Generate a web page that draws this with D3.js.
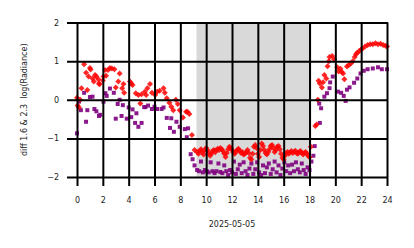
<!DOCTYPE html>
<html>
<head>
<meta charset="utf-8">
<script src="https://cdn.jsdelivr.net/npm/d3@7"></script>
<style>
  body { margin:0; background:white; }
  .tick text { font-family:"DejaVu Sans"; font-size:8px; fill:#222; }
  .lbl { font-family:"DejaVu Sans"; font-size:8px; fill:#222; white-space:pre; }
</style>
</head>
<body>
<script>
// hours and values
var redHours=[0,0.05,0.15,0.25,0.35,0.55,0.7,0.8,0.9,1.0,1.05,1.2,1.3,1.4,1.5,1.65,1.7,1.75,2.0,2.05,2.17,2.25,2.4,2.55,2.7,2.9,3.0,3.2,3.3,3.5,3.6,3.65,4.1,4.2,4.3,4.55,4.75,4.9,5.0,5.25,5.35,5.45,5.65,5.8,6.05,6.2,6.4,6.7,6.8,6.95,7.15,7.3,7.45,7.65,7.8,7.95,8.2,8.45,8.55,8.7,8.9,9.1,9.3,
  9.4,9.5,9.6,9.7,9.8,9.9,10.0,10.1,10.2,10.3,10.4,10.5,10.6,10.7,10.8,10.9,11.0,11.1,11.2,11.3,11.4,11.5,11.6,11.7,11.8,11.9,12.0,12.1,12.2,12.3,12.4,12.5,12.6,12.7,12.8,12.9,13.0,13.1,13.2,13.3,13.4,13.5,13.6,13.7,13.8,13.9,14.0,14.1,14.2,14.3,14.4,14.5,14.6,14.7,14.8,14.9,15.0,15.1,15.2,15.3,15.4,15.5,15.6,15.7,15.8,15.9,16.0,16.1,16.2,16.3,16.4,16.5,16.6,16.7,16.8,16.9,17.0,17.1,17.2,17.3,17.4,17.5,17.6,17.7,17.8,17.9,18.0,18.1,
  18.45,18.55,18.65,18.7,18.8,18.96,19.05,19.15,19.3,19.4,19.5,19.55,19.75,19.9,20.15,20.25,20.4,20.5,20.6,20.7,20.9,21.05,21.2,21.35,21.5,21.6,21.7,21.85,22.0,22.1,22.3,22.5,22.7,22.9,23.1,23.3,23.5,23.7,23.9,24.0];
var redVals=[0.05,-0.15,-0.2,0.0,0.3,0.92,0.7,0.25,0.6,0.82,0.78,0.55,0.47,0.64,0.6,0.53,0.42,0.4,0.5,0.6,0.77,0.62,0.77,0.82,0.81,0.79,0.32,0.47,0.68,0.3,0.41,0.18,0.47,0.42,0.38,0.17,0.12,-0.1,0.14,0.21,0.12,0.3,0.41,0.18,0.12,0.21,0.23,0.3,0.18,0.04,-0.08,-0.18,-0.27,0.0,-0.11,-0.27,-0.46,-0.31,-0.31,-0.37,-0.91,-1.3,-1.35,
  -1.4,-1.32,-1.28,-1.35,-1.42,-1.3,-1.25,-1.3,-1.38,-1.45,-1.4,-1.33,-1.3,-1.36,-1.3,-1.27,-1.3,-1.25,-1.28,-1.33,-1.4,-1.48,-1.38,-1.28,-1.22,-1.25,-1.3,-1.36,-1.4,-1.35,-1.3,-1.27,-1.32,-1.38,-1.35,-1.42,-1.4,-1.35,-1.3,-1.38,-1.5,-1.55,-1.4,-1.22,-1.17,-1.25,-1.4,-1.48,-1.3,-1.13,-1.2,-1.3,-1.38,-1.42,-1.35,-1.28,-1.2,-1.17,-1.25,-1.35,-1.3,-1.22,-1.2,-1.28,-1.4,-1.5,-1.55,-1.45,-1.38,-1.35,-1.4,-1.36,-1.33,-1.38,-1.35,-1.32,-1.38,-1.4,-1.35,-1.33,-1.38,-1.42,-1.38,-1.35,-1.4,-1.45,-1.49,-1.22,
  -0.68,-0.64,0.0,0.49,0.42,0.32,0.45,0.64,0.55,0.87,1.0,1.11,1.13,1.05,0.84,0.73,0.8,0.72,0.68,0.53,0.86,0.9,0.94,1.0,1.11,1.18,1.22,1.26,1.3,1.33,1.38,1.42,1.44,1.44,1.46,1.44,1.45,1.42,1.40,1.38];

var purpleHours=[0,0.15,0.3,0.55,0.7,0.8,1.0,1.2,1.35,1.5,1.7,1.8,2.05,2.2,2.3,2.55,2.85,3.0,3.15,3.3,3.45,3.55,3.85,4.0,4.2,4.3,4.5,4.6,4.75,5.0,5.2,5.3,5.5,5.8,6.0,6.2,6.55,6.7,6.95,7.2,7.3,7.5,7.7,7.95,8.35,8.5,8.6,8.8,8.95,9.1,9.3,
  9.45,9.6,9.75,9.9,10.05,10.2,10.35,10.5,10.65,10.8,10.95,11.1,11.25,11.4,11.55,11.7,11.85,12.0,12.15,12.3,12.45,12.6,12.75,12.9,13.05,13.2,13.35,13.5,13.65,13.8,13.95,14.1,14.25,14.4,14.55,14.7,14.85,15.0,15.15,15.3,15.45,15.6,15.75,15.9,16.05,16.2,16.35,16.5,16.65,16.8,16.95,17.1,17.25,17.4,17.55,17.7,17.85,18.0,
  18.15,18.3,18.4,18.75,18.8,18.9,19.15,19.35,19.55,19.6,19.8,20.2,20.45,20.65,20.8,20.9,21.1,21.45,21.7,21.95,22.2,22.5,22.9,23.3,23.6,24.0];
var purpleVals=[-0.87,-0.05,-0.27,0.18,-0.57,-0.27,0.07,0.08,-0.24,-0.3,-0.42,-0.39,-0.05,0.17,0.1,0.29,0.18,-0.49,-0.11,0.0,-0.42,-0.14,-0.49,-0.2,-0.45,-0.25,-0.6,-0.35,-0.7,-0.6,-0.19,-0.19,-0.15,-0.24,-0.18,-0.24,-0.24,-0.2,-0.47,-0.73,-0.48,-0.83,-0.57,-0.7,-0.76,-0.97,-0.74,-1.41,-1.54,-1.7,-1.82,
  -1.85,-1.6,-1.88,-1.82,-1.85,-1.88,-1.62,-1.85,-1.9,-1.85,-1.65,-1.87,-1.9,-1.7,-1.85,-1.95,-1.82,-1.88,-1.6,-1.92,-1.8,-1.68,-1.9,-1.62,-1.85,-1.95,-1.78,-1.65,-1.92,-1.8,-1.62,-1.88,-1.95,-1.7,-1.9,-1.75,-1.65,-1.92,-1.8,-1.6,-1.88,-1.7,-1.95,-1.78,-1.62,-1.85,-1.7,-1.9,-1.68,-1.85,-1.62,-1.8,-1.88,-1.65,-1.82,-1.92,-1.75,-1.82,
  -1.6,-1.45,-1.2,-0.1,-0.6,-0.22,0.08,0.17,0.3,0.45,0.6,0.21,0.18,0.1,-0.03,0.26,0.32,0.44,0.55,0.68,0.75,0.79,0.81,0.84,0.79,0.79];

var xTicks=[0,2,4,6,8,10,12,14,16,18,20,22,24];
var yTicks=[-2,-1,0,1,2];
var nightSpan=[9.25,18.15];

var width=414,height=248;
var svg=d3.select("body").append("svg").attr("width",width).attr("height",height);

var x=d3.scaleLinear().domain([0,24]).range([77,387]);
var y=d3.scaleLinear().domain([-2,2]).range([177,22.5]);

// shaded band
svg.append("rect")
   .attr("x",x(nightSpan[0])).attr("y",y(2))
   .attr("width",x(nightSpan[1])-x(nightSpan[0]))
   .attr("height",y(-2)-y(2))
   .attr("fill","#d9d9d9");

var sq=d3.symbol().type(d3.symbolSquare);

svg.append("g").selectAll("path").data(d3.range(purpleHours.length)).enter()
   .append("path")
   .attr("d",sq.size(16)())
   .attr("transform",function(i){return "translate("+x(purpleHours[i])+","+y(purpleVals[i])+")";})
   .attr("fill","purple").attr("opacity",0.9);

svg.append("g").selectAll("path").data(d3.range(redHours.length)).enter()
   .append("path")
   .attr("d",d3.symbol().type(d3.symbolSquare).size(18)())
   .attr("transform",function(i){return "translate("+x(redHours[i])+","+y(redVals[i])+") rotate(45)";})
   .attr("fill","red").attr("opacity",0.85);

// grid + ticks on top of the markers
var xAxis=svg.append("g").attr("transform","translate(0,186)")
   .call(d3.axisBottom(x).tickValues(xTicks).tickSize(-(186-y(2))).tickPadding(11).tickFormat(d3.format("d")));
var yAxis=svg.append("g").attr("transform","translate(67,0)")
   .call(d3.axisLeft(y).tickValues(yTicks).tickSize(-(x(24)-67)).tickPadding(8).tickFormat(function(d){return d<0?"\u2212"+(-d):d;}));
svg.selectAll(".domain").remove();
svg.selectAll(".tick line").attr("stroke","black").attr("stroke-width",2);
yAxis.selectAll(".tick line").attr("x2",x(24)-67+1);

svg.append("text").attr("class","lbl")
   .attr("x",(x(0)+x(24))/2).attr("y",227).attr("text-anchor","middle")
   .text("2025-05-05");
svg.append("text").attr("class","lbl")
   .attr("transform","translate(27,"+y(0)+") rotate(-90)").attr("text-anchor","middle")
   .text("diff 1.6 & 2.3  log(Radiance)");
</script>
</body>
</html>
